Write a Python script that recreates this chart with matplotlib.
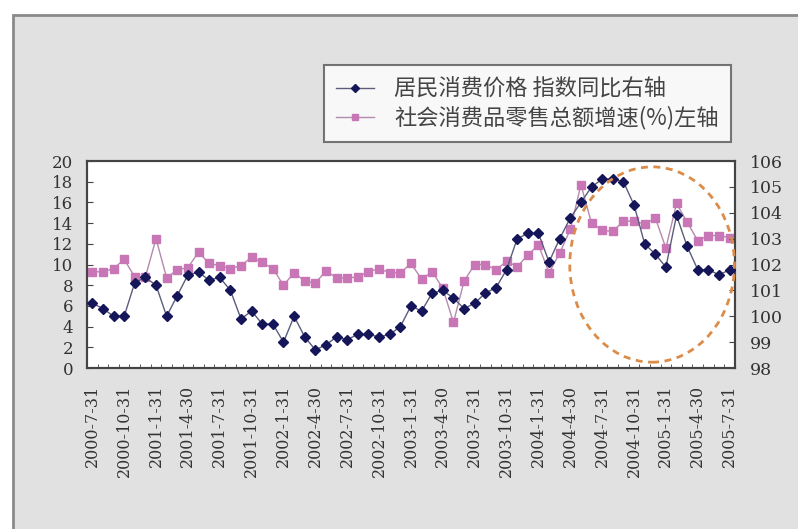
import numpy as np
import matplotlib
matplotlib.use("Agg")
import matplotlib.pyplot as plt
from matplotlib.lines import Line2D
from matplotlib.patches import Rectangle, Ellipse

plt.rcParams['font.family'] = ['Noto Sans CJK SC', 'DejaVu Sans']

# Monthly series, 2000-7 .. 2005-7
cpi = [100.5, 100.3, 100.0, 100.0, 101.3, 101.5, 101.2, 100.0, 100.8, 101.6,
       101.7, 101.4, 101.5, 101.0, 99.9, 100.2, 99.7, 99.7, 99.0, 100.0,
       99.2, 98.7, 98.9, 99.2, 99.1, 99.3, 99.3, 99.2, 99.3, 99.6,
       100.4, 100.2, 100.9, 101.0, 100.7, 100.3, 100.5, 100.9, 101.1, 101.8,
       103.0, 103.2, 103.2, 102.1, 103.0, 103.8, 104.4, 105.0, 105.3, 105.3,
       105.2, 104.3, 102.8, 102.4, 101.9, 103.9, 102.7, 101.8, 101.8, 101.6,
       101.8]
retail = [9.3, 9.3, 9.6, 10.5, 8.8, 8.8, 12.5, 8.7, 9.5, 9.7,
          11.2, 10.1, 9.9, 9.6, 9.9, 10.7, 10.2, 9.6, 8.0, 9.2,
          8.4, 8.2, 9.4, 8.7, 8.7, 8.8, 9.3, 9.6, 9.2, 9.2,
          10.1, 8.6, 9.3, 7.7, 4.4, 8.4, 10.0, 10.0, 9.5, 10.3,
          9.8, 10.9, 11.9, 9.2, 11.1, 13.4, 17.7, 14.0, 13.3, 13.2,
          14.2, 14.2, 13.9, 14.5, 11.6, 15.9, 14.1, 12.3, 12.8, 12.8,
          12.6]
date_labels = ["2000-7-31", "2000-10-31", "2001-1-31", "2001-4-30", "2001-7-31",
               "2001-10-31", "2002-1-31", "2002-4-30", "2002-7-31", "2002-10-31",
               "2003-1-31", "2003-4-30", "2003-7-31", "2003-10-31", "2004-1-31",
               "2004-4-30", "2004-7-31", "2004-10-31", "2005-1-31", "2005-4-30",
               "2005-7-31"]
cpi_name = "居民消费价格 指数同比右轴"
retail_name = "社会消费品零售总额增速(%)左轴"

x = np.arange(len(cpi))

fig = plt.figure(figsize=(7.98, 5.29), dpi=100)
fig.patch.set_facecolor("white")
# gray chart background with a darker frame, kept behind the axes
fig.patches.append(Rectangle((0.0163, -0.1), 1.2, 1.0716, transform=fig.transFigure,
                             facecolor="#e1e1e1", edgecolor="#8a8a8a", lw=2.0, zorder=-10))

ax = fig.add_axes([0.109, 0.3043, 0.812, 0.3913])
ax.set_facecolor("white")
ax2 = ax.twinx()

ax.plot(x, retail, color="#b48aae", lw=1.0, marker="s", markersize=6,
        markerfacecolor="#c876b6", markeredgecolor="#c876b6", zorder=3)
ax2.plot(x, cpi, color="#5c5c7c", lw=1.0, marker="D", markersize=5.5,
         markerfacecolor="#15155a", markeredgecolor="#15155a", zorder=4)

ax.set_xlim(-0.5, len(cpi) - 0.5)
ax.set_ylim(0, 20)
ax2.set_ylim(98, 106)

serif = "DejaVu Serif"
ax.set_yticks(np.arange(0, 21, 2))
ax.set_yticklabels([str(v) for v in range(0, 21, 2)], fontfamily=serif, fontsize=12, color="#333333")
ax2.set_yticks(np.arange(98, 107, 1))
ax2.set_yticklabels([str(v) for v in range(98, 107)], fontfamily=serif, fontsize=12.5, color="#333333")
ax.tick_params(axis="y", direction="in", length=4, pad=10, color="#444444")
ax2.tick_params(axis="y", direction="in", length=4, pad=11, color="#444444")

ax.set_xticks(x[::3])
ax.set_xticklabels(date_labels, rotation=90, fontfamily=serif, fontsize=11.5, color="#333333")
ax.set_xticks(np.arange(-0.5, len(cpi), 1), minor=True)
ax.tick_params(axis="x", which="major", length=0, pad=12)
ax.tick_params(axis="x", which="minor", direction="in", length=3, color="#444444")

for a in (ax, ax2):
    for sp in a.spines.values():
        sp.set_color("#444444")
        sp.set_linewidth(1.5)

# highlight of the recent period
ax2.add_patch(Ellipse((52.7, 102.0), 15.5, 7.55, fill=False, edgecolor="#da8c48",
                      lw=2.0, ls=(0, (2.5, 2)), clip_on=False, zorder=6))

handles = [Line2D([], [], color="#5c5c7c", lw=1.0, marker="D", markersize=4,
                  markerfacecolor="#15155a", markeredgecolor="#15155a"),
           Line2D([], [], color="#b48aae", lw=1.0, marker="s", markersize=5,
                  markerfacecolor="#c876b6", markeredgecolor="#c876b6")]
leg = fig.legend(handles, [cpi_name, retail_name], loc="upper left",
                 bbox_to_anchor=(0.406, 0.877), bbox_transform=fig.transFigure,
                 fontsize=16, frameon=True, fancybox=False, borderaxespad=0,
                 borderpad=0.55, labelspacing=0.25, handlelength=1.7, handletextpad=0.9)
leg.get_frame().set_edgecolor("#555555")
leg.get_frame().set_linewidth(1.5)
leg.get_frame().set_facecolor("white")
for t in leg.get_texts():
    t.set_color("#444444")

fig.savefig("out.png", dpi=100, facecolor=fig.get_facecolor())
